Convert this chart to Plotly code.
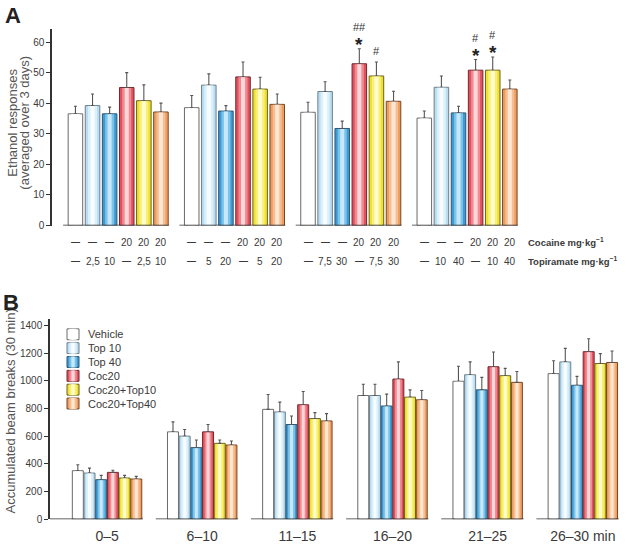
import plotly.graph_objects as go

W, H = 629, 548
FONT = "Liberation Sans, Arial, sans-serif"
TXT = "#3a3a3a"

series = ["Vehicle", "Top 10", "Top 40", "Coc20", "Coc20+Top10", "Coc20+Top40"]
edge_colors = ["#ffffff", "#b9def3", "#3a9bd6", "#e4505c", "#f0e22c", "#ef9c5c"]
mid_colors = ["#ffffff", "#dcf0fb", "#7cc3ea", "#f08a93", "#f7ef7a", "#f6bf92"]
center_colors = ["#ffffff", "#f7fcff", "#c8e8f8", "#fcd7da", "#fffccc", "#fde6d2"]
outline_colors = ["#6a6a6a", "#6f7f8a", "#2f5670", "#6e2a30", "#6a6322", "#74482a"]

# ---------------- Panel A: ethanol responses ----------------
a_means = [
    [36.6, 38.6, 37.1, 35.2],   # Vehicle
    [39.3, 46.0, 43.9, 45.3],   # Top low
    [36.6, 37.5, 31.8, 36.9],   # Top high
    [45.2, 48.7, 53.0, 50.9],   # Coc20
    [40.9, 44.7, 49.0, 50.9],   # Coc20 + Top low
    [37.2, 39.7, 40.7, 44.7],   # Coc20 + Top high
]
a_sems = [
    [2.5, 4.0, 3.3, 2.3],
    [3.8, 3.7, 3.2, 3.7],
    [2.2, 1.8, 2.4, 2.2],
    [4.9, 4.9, 4.9, 3.5],
    [5.2, 3.9, 4.6, 4.3],
    [2.9, 3.4, 3.3, 3.0],
]
cocaine_row = ["—", "—", "—", "20", "20", "20"]
topiramate_rows = [
    ["—", "2,5", "10", "—", "2,5", "10"],
    ["—", "5", "20", "—", "5", "20"],
    ["—", "7,5", "30", "—", "7,5", "30"],
    ["—", "10", "40", "—", "10", "40"],
]
a_star = [(2, 3), (3, 3), (3, 4)]                      # (group, bar)
a_hash = [(2, 3, "##"), (2, 4, "#"), (3, 3, "#"), (3, 4, "#")]
a_yticks = [0, 10, 20, 30, 40, 50, 60]
a_title_lines = ["Ethanol responses", "(averaged over 3 days)"]

# ---------------- Panel B: locomotor activity ----------------
b_bins = ["0–5", "6–10", "11–15", "16–20", "21–25", "26–30 min"]
b_means = [
    [351, 632, 795, 895, 998, 1053],
    [334, 601, 776, 895, 1045, 1138],
    [286, 518, 685, 819, 936, 969],
    [339, 632, 828, 1014, 1103, 1212],
    [298, 549, 728, 883, 1038, 1126],
    [291, 537, 711, 864, 990, 1134],
]
b_sems = [
    [43, 72, 107, 81, 109, 93],
    [36, 48, 71, 81, 93, 98],
    [31, 55, 62, 86, 90, 64],
    [15, 53, 96, 124, 107, 93],
    [19, 24, 43, 53, 53, 72],
    [19, 29, 53, 67, 79, 83],
]
b_yticks = [0, 200, 400, 600, 800, 1000, 1200, 1400]
b_title = "Accumulated beam breaks (30 min)"

# layout helpers
PA, WA = 6.8, 0.85     # group period / bar width (bar-slot units), panel A
PB, WB = 8.14, 0.94    # panel B

def px2x(px):
    return px / W

def py2y(py):
    return 1 - py / H

fig = go.Figure()

def add_bars(xs, ys, errs, k, width, xa, ya, eps):
    fig.add_trace(go.Bar(
        x=xs, y=ys, width=width, name=series[k], xaxis=xa, yaxis=ya,
        marker=dict(color=edge_colors[k], line=dict(color=outline_colors[k], width=1)),
        error_y=dict(type="data", array=errs, arrayminus=[0] * len(errs), symmetric=False,
                     color="#555555", thickness=1.1, width=1.5),
        showlegend=False, hoverinfo="skip"))
    for frac, cols in ((0.62, mid_colors), (0.28, center_colors)):
        fig.add_trace(go.Bar(
            x=xs, y=[v - eps for v in ys], width=width * frac,
            xaxis=xa, yaxis=ya, marker=dict(color=cols[k], line=dict(width=0)),
            showlegend=False, hoverinfo="skip"))

nA = len(a_means[0])
for k in range(len(series)):
    xs = [g * PA + k for g in range(nA)]
    add_bars(xs, a_means[k], a_sems[k], k, WA, "x", "y", 0.15)

nB = len(b_bins)
for k in range(len(series)):
    xs = [g * PB + k for g in range(nB)]
    add_bars(xs, b_means[k], b_sems[k], k, WB, "x2", "y2", 4)

shapes = []
annotations = []

# group baselines, panel A
for g in range(nA):
    shapes.append(dict(type="line", xref="x", yref="y", x0=g * PA - 0.72, x1=g * PA + 5 + WA / 2 + 0.05,
                       y0=0, y1=0, line=dict(color="#333333", width=1.5)))
# group baselines, panel B
for g in range(nB):
    x0 = -2.38 if g == 0 else g * PB - WB / 2 - 1.0
    shapes.append(dict(type="line", xref="x2", yref="y2", x0=x0, x1=g * PB + 5 + WB / 2 + 0.1,
                       y0=0, y1=0, line=dict(color="#333333", width=1.5)))

# dose labels under panel A
def dose_label(x, py, t):
    is_dash = t == "—"
    return dict(xref="x", yref="paper", x=x, y=py2y(py), text=("<b>—</b>" if is_dash else t),
                xanchor="center", yanchor="middle", showarrow=False,
                font=dict(size=9 if is_dash else 10, color=TXT, family=FONT))

for g in range(nA):
    for k in range(len(series)):
        annotations.append(dose_label(g * PA + k, 245, cocaine_row[k]))
        annotations.append(dose_label(g * PA + k, 264, topiramate_rows[g][k]))
annotations.append(dict(xref="paper", yref="paper", x=px2x(526), y=py2y(245), xanchor="left", yanchor="middle",
                        text="<b>Cocaine mg·kg<sup>−1</sup></b>", showarrow=False,
                        font=dict(size=9.5, color=TXT, family=FONT)))
annotations.append(dict(xref="paper", yref="paper", x=px2x(526), y=py2y(264), xanchor="left", yanchor="middle",
                        text="<b>Topiramate mg·kg<sup>−1</sup></b>", showarrow=False,
                        font=dict(size=9.5, color=TXT, family=FONT)))

# significance markers
star_set = set(a_star)
for (g, k) in a_star:
    top = a_means[k][g] + a_sems[k][g]
    annotations.append(dict(xref="x", yref="y", x=g * PA + k, y=top, xanchor="center", yanchor="bottom",
                            yshift=-8, text="<b>*</b>", showarrow=False,
                            font=dict(size=19, color="#222222", family=FONT)))
for (g, k, t) in a_hash:
    top = a_means[k][g] + a_sems[k][g]
    annotations.append(dict(xref="x", yref="y", x=g * PA + k, y=top, xanchor="center", yanchor="bottom",
                            yshift=14 if (g, k) in star_set else 3,
                            text=t, showarrow=False, font=dict(size=11, color="#333333", family=FONT)))

# axis titles (rotated)
for i, line in enumerate(a_title_lines):
    annotations.append(dict(xref="paper", yref="paper", x=px2x(13 + 12 * i), y=py2y(124), textangle=-90,
                            xanchor="center", yanchor="middle", text=line, showarrow=False,
                            font=dict(size=13, color="#555555", family=FONT)))
annotations.append(dict(xref="paper", yref="paper", x=px2x(10), y=py2y(416), textangle=-90,
                        xanchor="center", yanchor="middle", text=b_title, showarrow=False,
                        font=dict(size=13, color="#555555", family=FONT)))

# panel letters
annotations.append(dict(xref="paper", yref="paper", x=px2x(3), y=py2y(1), xanchor="left", yanchor="top",
                        text="<b>A</b>", showarrow=False, font=dict(size=22, color="#222222", family=FONT)))
annotations.append(dict(xref="paper", yref="paper", x=px2x(1), y=py2y(291), xanchor="left", yanchor="top",
                        text="<b>B</b>", showarrow=False, font=dict(size=22, color="#222222", family=FONT)))

# manual legend, panel B
for k, name in enumerate(series):
    cy = 338 + 14 * k
    for cols, frac in ((edge_colors, 1.0), (mid_colors, 0.62), (center_colors, 0.28)):
        cx, hw = 73, 6 * frac
        shapes.append(dict(type="rect", xref="paper", yref="paper",
                           x0=px2x(cx - hw), x1=px2x(cx + hw), y0=py2y(cy + 5.5), y1=py2y(cy - 5.5),
                           fillcolor=cols[k],
                           line=dict(color=outline_colors[k], width=1) if frac == 1.0 else dict(width=0)))
    annotations.append(dict(xref="paper", yref="paper", x=px2x(86), y=py2y(cy), xanchor="left",
                            yanchor="middle", text=name, showarrow=False,
                            font=dict(size=11, color=TXT, family=FONT)))

axis_common = dict(showgrid=False, zeroline=False)
fig.update_layout(
    width=W, height=H, margin=dict(l=0, r=0, t=0, b=0),
    paper_bgcolor="white", plot_bgcolor="white",
    barmode="overlay", showlegend=False,
    font=dict(family=FONT, color=TXT),
    xaxis=dict(domain=[px2x(52), px2x(530)], range=[-1.37, 26.58], showticklabels=False,
               showline=False, ticks="", anchor="y", **axis_common),
    yaxis=dict(domain=[py2y(228), py2y(29)], range=[0, 64.5], tickvals=a_yticks,
               showline=True, linecolor="#333333", linewidth=1.5, ticks="outside", ticklen=4,
               tickcolor="#333333", tickfont=dict(size=10, color=TXT), anchor="x", **axis_common),
    xaxis2=dict(domain=[px2x(50), 1.0], range=[-2.38, 47.15],
                tickvals=[g * PB + 2.5 for g in range(nB)], ticktext=b_bins, ticklabelstandoff=7,
                tickfont=dict(size=14, color=TXT), ticks="", showline=False, anchor="y2", **axis_common),
    yaxis2=dict(domain=[py2y(525), py2y(323)], range=[0, 1445], tickvals=b_yticks,
                showline=True, linecolor="#333333", linewidth=1.5, ticks="outside", ticklen=4,
                tickcolor="#333333", tickfont=dict(size=10, color=TXT), anchor="x2", **axis_common),
    shapes=shapes, annotations=annotations,
)

fig.write_html("out.html", config={"displayModeBar": False},
               post_script="document.body.style.margin='0px';")
